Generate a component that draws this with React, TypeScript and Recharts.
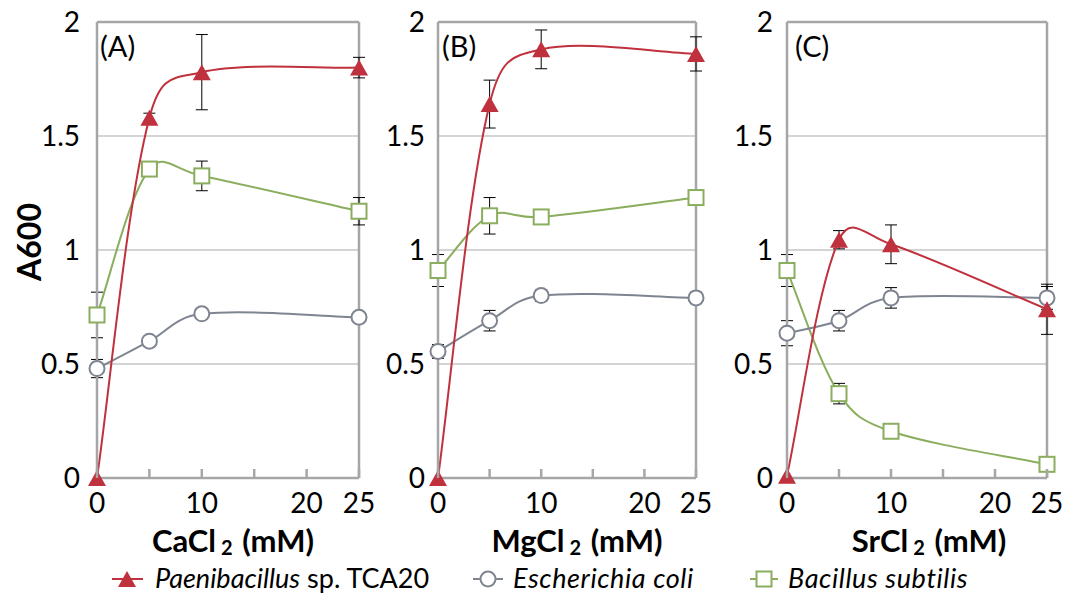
import React from 'react';
import { LineChart, Line, XAxis, YAxis, CartesianGrid, ReferenceLine, ErrorBar } from 'recharts';

// ---------------------------------------------------------------------------
// Data (A600 vs. salt concentration, mM)
// ---------------------------------------------------------------------------

const CONC = [0, 5, 10, 25];
const X_TICKS = [0, 5, 10, 15, 20, 25];
const X_LABELS = [0, 10, 20, 25];
const Y_TICKS = [0, 0.5, 1, 1.5, 2];

// (A) CaCl2
const CA_PAE = [0, 1.58, 1.78, 1.8];
const CA_PAE_ERR = [null, 0.02, 0.165, 0.045];
const CA_ECO = [0.48, 0.6, 0.72, 0.705];
const CA_ECO_ERR = [0.04, 0.02, 0.02, 0.02];
const CA_BSU = [0.715, 1.355, 1.325, 1.17];
const CA_BSU_ERR = [0.1, 0.02, 0.065, 0.06];

// (B) MgCl2
const MG_PAE = [0, 1.64, 1.88, 1.86];
const MG_PAE_ERR = [null, 0.105, 0.085, 0.075];
const MG_ECO = [0.555, 0.69, 0.8, 0.79];
const MG_ECO_ERR = [0.03, 0.045, 0.025, 0.025];
const MG_BSU = [0.91, 1.15, 1.145, 1.23];
const MG_BSU_ERR = [0.07, 0.08, 0.01, 0.01];

// (C) SrCl2
const SR_PAE = [0.01, 1.045, 1.025, 0.74];
const SR_PAE_ERR = [null, 0.04, 0.085, 0.11];
const SR_ECO = [0.635, 0.69, 0.79, 0.79];
const SR_ECO_ERR = [0.055, 0.045, 0.045, 0.05];
const SR_BSU = [0.91, 0.37, 0.205, 0.06];
const SR_BSU_ERR = [0.07, 0.045, 0.01, 0.01];

// ---------------------------------------------------------------------------
// Styles
// ---------------------------------------------------------------------------

const RED = '#c0313e';
const GRAY = '#7f8590';
const GREEN = '#8aae5e';
const AXIS = '#a6a6a8';
const GRID = '#d4d4d4';
const FONT = 'Lato, "Open Sans", sans-serif';

// ---------------------------------------------------------------------------
// Helpers
// ---------------------------------------------------------------------------

type Row = Record<string, number | null>;

function buildRows(
  pae: number[], paeErr: (number | null)[],
  eco: number[], ecoErr: (number | null)[],
  bsu: number[], bsuErr: (number | null)[],
): Row[] {
  return CONC.map((x, i) => ({
    x,
    pae: pae[i], paeErr: paeErr[i],
    eco: eco[i], ecoErr: ecoErr[i],
    bsu: bsu[i], bsuErr: bsuErr[i],
  }));
}

const dist = (a: [number, number], b: [number, number]) => Math.hypot(b[0] - a[0], b[1] - a[1]);

// Excel-like smoothed line: Catmull-Rom tangents, half chord-weighted
function excelSmooth(context: any) {
  let pts: [number, number][] = [];
  return {
    areaStart() {},
    areaEnd() {},
    lineStart() { pts = []; },
    lineEnd() {
      const n = pts.length;
      if (!n) return;
      context.moveTo(pts[0][0], pts[0][1]);
      for (let i = 0; i < n - 1; i++) {
        const p0 = pts[Math.max(i - 1, 0)];
        const p1 = pts[i];
        const p2 = pts[i + 1];
        const p3 = pts[Math.min(i + 2, n - 1)];
        const d01 = dist(p0, p1);
        const d12 = dist(p1, p2);
        const d23 = dist(p2, p3);
        const f1 = (1 / 6 + (d01 + d12 > 0 ? d12 / (d01 + d12) / 3 : 1 / 6)) / 2;
        const f2 = (1 / 6 + (d12 + d23 > 0 ? d12 / (d12 + d23) / 3 : 1 / 6)) / 2;
        context.bezierCurveTo(
          p1[0] + (p2[0] - p0[0]) * f1, p1[1] + (p2[1] - p0[1]) * f1,
          p2[0] - (p3[0] - p1[0]) * f2, p2[1] - (p3[1] - p1[1]) * f2,
          p2[0], p2[1],
        );
      }
    },
    point(x: number, y: number) { pts.push([+x, +y]); },
  };
}

const TriangleDot = ({ cx, cy }: any) =>
  cx == null ? null : (
    <path d={`M${cx},${cy - 8} L${cx + 9},${cy + 8} L${cx - 9},${cy + 8} Z`} fill={RED} />
  );

const CircleDot = ({ cx, cy }: any) =>
  cx == null ? null : <circle cx={cx} cy={cy} r={7.5} fill="#fff" stroke={GRAY} strokeWidth={2} />;

const SquareDot = ({ cx, cy }: any) =>
  cx == null ? null : (
    <rect x={cx - 7.5} y={cy - 7.5} width={15} height={15} fill="#fff" stroke={GREEN} strokeWidth={2} />
  );

const XTick = ({ x, y, payload }: any) => (
  <g>
    <line x1={x} y1={y} x2={x} y2={y - 9} stroke={AXIS} strokeWidth={2.5} />
    {X_LABELS.includes(payload.value) && (
      <text x={x} y={y + 35} textAnchor="middle" fontSize={28} fontFamily={FONT} fill="#000">
        {payload.value}
      </text>
    )}
  </g>
);

// ---------------------------------------------------------------------------
// Panel
// ---------------------------------------------------------------------------

interface PanelProps {
  rows: Row[];
  left: number;
  width: number;
  yAxisWidth: number;
  rightMargin: number;
  yTickMargin: number;
}

const Panel: React.FC<PanelProps> = ({ rows, left, width, yAxisWidth, rightMargin, yTickMargin }) => (
  <div style={{ position: 'absolute', left, top: 0 }}>
    <LineChart
      width={width}
      height={594}
      data={rows}
      margin={{ top: 22, right: rightMargin, left: 0, bottom: 0 }}
    >
      <CartesianGrid vertical={false} stroke={GRID} strokeWidth={2} />
      <XAxis
        dataKey="x"
        type="number"
        domain={[0, 25]}
        ticks={X_TICKS}
        height={116}
        tickSize={0}
        tickMargin={0}
        tickLine={false}
        tick={<XTick />}
        axisLine={{ stroke: AXIS, strokeWidth: 2.5 }}
        interval={0}
      />
      <YAxis
        type="number"
        domain={[0, 2]}
        ticks={Y_TICKS}
        width={yAxisWidth}
        tickLine={false}
        tickSize={0}
        tickMargin={yTickMargin}
        axisLine={{ stroke: AXIS, strokeWidth: 2.5 }}
        tick={{ fontSize: 28, fill: '#000', fontFamily: FONT }}
        interval={0}
      />
      <ReferenceLine y={2} stroke={AXIS} strokeWidth={2.5} />
      <ReferenceLine x={25} stroke={AXIS} strokeWidth={2.5} />

      <Line
        dataKey="bsu"
        type={excelSmooth as any}
        stroke={GREEN}
        strokeWidth={2}
        dot={<SquareDot />}
        activeDot={false}
        isAnimationActive={false}
      >
        <ErrorBar dataKey="bsuErr" width={6} stroke="#000" strokeWidth={1} direction="y" />
      </Line>
      <Line
        dataKey="eco"
        type={excelSmooth as any}
        stroke={GRAY}
        strokeWidth={2}
        dot={<CircleDot />}
        activeDot={false}
        isAnimationActive={false}
      >
        <ErrorBar dataKey="ecoErr" width={6} stroke="#000" strokeWidth={1} direction="y" />
      </Line>
      <Line
        dataKey="pae"
        type={excelSmooth as any}
        stroke={RED}
        strokeWidth={2}
        dot={<TriangleDot />}
        activeDot={false}
        isAnimationActive={false}
      >
        <ErrorBar dataKey="paeErr" width={6} stroke="#000" strokeWidth={1} direction="y" />
      </Line>
    </LineChart>
  </div>
);

// ---------------------------------------------------------------------------
// Overlay texts: panel tags, axis titles, legend
// ---------------------------------------------------------------------------

const AxisTitle = ({ cx, salt }: { cx: number; salt: string }) => (
  <text x={cx} y={552} textAnchor="middle" fontSize={31} fontWeight={700} fontFamily={FONT} fill="#000">
    {salt}
    <tspan fontSize={20} dx={5} dy={3}>2</tspan>
    <tspan dx={2} dy={-3}> (mM)</tspan>
  </text>
);

const Overlay = () => (
  <svg
    width={1075}
    height={594}
    style={{ position: 'absolute', left: 0, top: 0, pointerEvents: 'none' }}
  >
    <g fontFamily={FONT} fill="#000">
      <text x={100} y={57} fontSize={29}>(A)</text>
      <text x={442} y={57} fontSize={29}>(B)</text>
      <text x={795} y={57} fontSize={29}>(C)</text>

      <text
        x={41}
        y={242}
        fontSize={32}
        fontWeight={700}
        textAnchor="middle"
        transform="rotate(-90 41 242)"
      >
        A600
      </text>
    </g>

    <AxisTitle cx={233} salt="CaCl" />
    <AxisTitle cx={577} salt="MgCl" />
    <AxisTitle cx={929} salt="SrCl" />

    {/* Legend */}
    <g fontFamily={FONT} fontSize={27} fill="#000">
      <line x1={112} y1={579} x2={143} y2={579} stroke={RED} strokeWidth={2} />
      <path d="M127,571 L136,587 L118,587 Z" fill={RED} />
      <text x={155} y={588}>
        <tspan fontStyle="italic">Paenibacillus</tspan> sp. TCA20
      </text>

      <line x1={473} y1={579} x2={503} y2={579} stroke={GRAY} strokeWidth={2} />
      <circle cx={488} cy={579} r={7.5} fill="#fff" stroke={GRAY} strokeWidth={2} />
      <text x={513} y={588} fontStyle="italic" letterSpacing={0.6}>Escherichia coli</text>

      <line x1={750} y1={579} x2={778} y2={579} stroke={GREEN} strokeWidth={2} />
      <rect x={756.5} y={571.5} width={15} height={15} fill="#fff" stroke={GREEN} strokeWidth={2} />
      <text x={788} y={588} fontStyle="italic" letterSpacing={0.6}>Bacillus subtilis</text>
    </g>
  </svg>
);

// ---------------------------------------------------------------------------
// App
// ---------------------------------------------------------------------------

const CA_ROWS = buildRows(CA_PAE, CA_PAE_ERR, CA_ECO, CA_ECO_ERR, CA_BSU, CA_BSU_ERR);
const MG_ROWS = buildRows(MG_PAE, MG_PAE_ERR, MG_ECO, MG_ECO_ERR, MG_BSU, MG_BSU_ERR);
const SR_ROWS = buildRows(SR_PAE, SR_PAE_ERR, SR_ECO, SR_ECO_ERR, SR_BSU, SR_BSU_ERR);

export default function App() {
  return (
    <div
      style={{
        position: 'absolute',
        left: 0,
        top: 0,
        width: 1075,
        height: 594,
        background: '#fff',
        overflow: 'hidden',
      }}
    >
      <Panel rows={CA_ROWS} left={0} width={380} yAxisWidth={97} rightMargin={21} yTickMargin={17} />
      <Panel rows={MG_ROWS} left={380} width={340} yAxisWidth={58} rightMargin={24} yTickMargin={13} />
      <Panel rows={SR_ROWS} left={720} width={355} yAxisWidth={67} rightMargin={28} yTickMargin={14} />
      <Overlay />
    </div>
  );
}
